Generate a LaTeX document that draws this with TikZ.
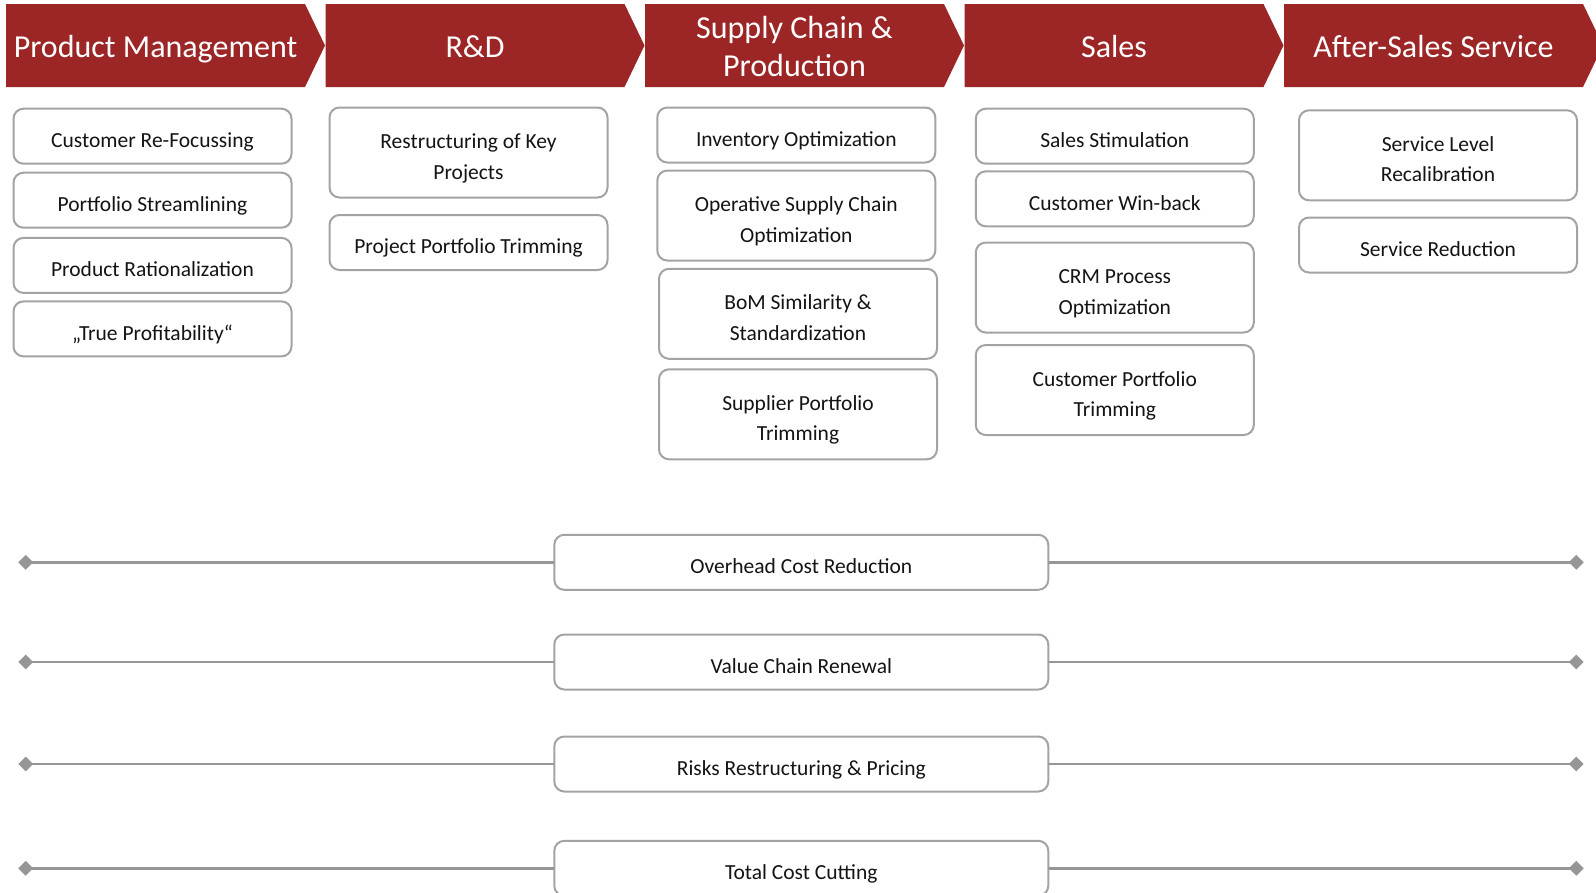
\documentclass[tikz,border=0pt]{standalone}
\usepackage{fontspec}
\setmainfont{Carlito}
\usetikzlibrary{positioning,shapes.geometric}

\definecolor{chainred}{RGB}{156,37,38}
\definecolor{boxgray}{RGB}{163,163,163}
\definecolor{linegray}{RGB}{150,150,150}
\definecolor{txtblack}{RGB}{20,20,20}

% struts that fix the text baselines inside the boxes
\newcommand{\levtop}{\rule{0pt}{28.8pt}}
\newcommand{\levbot}{\rule[-6pt]{0pt}{0pt}}
\newcommand{\stagetop}{\rule{0pt}{32pt}}
\newcommand{\stagebot}{\rule[-8pt]{0pt}{0pt}}

\tikzset{
  levbase/.style={draw=boxgray, line width=2pt, rounded corners=10pt, fill=white,
    minimum width=278pt, inner sep=0pt, align=center,
    text=txtblack, font=\fontsize{21.5}{30.5}\selectfont},
  lever/.style={levbase, minimum height=55pt,
    execute at begin node=\levtop, execute at end node=\levbot},
  lever2/.style={levbase, minimum height=90pt},
  bar/.style={lever, minimum width=494pt},
  stagetxt/.style={text=white, align=center, inner sep=0pt, font=\fontsize{32}{37.5}\selectfont},
  tipmark/.style={diamond, fill=linegray, inner sep=0pt, minimum size=15pt},
  barline/.style={draw=linegray, line width=2.8pt},
}

\begin{document}
\begin{tikzpicture}[line cap=round,line join=round,x=1pt,y=-1pt]
\useasboundingbox (0,0) rectangle (1596,892);

% value chain stages
\foreach \name/\lbl [count=\i from 0] in {pm/Product Management, rd/R\&D, scp/{Supply Chain \&\\Production}, sales/Sales, ass/After-Sales Service}
{
\pgfmathsetmacro{\hx}{6+319.5*\i}
\fill[chainred] (\hx,4) -- ++(299,0) -- ++(20,41.5) -- ++(-20,41.5) -- ++(-299,0) -- cycle;
\node[stagetxt] (\name) at (\hx+149.5,45.5) {\stagetop\lbl\stagebot};
}

% Product Management
\node[lever] (crf) at (152.5,136.2) {Customer Re-Focussing};
\node[lever] (pst) at (152.5,200.2) {Portfolio Streamlining};
\node[lever] (pra) at (152.5,265.4) {Product Rationalization};
\node[lever] (tpr) at (152.5,328.9) {„True Profitability“};

% R&D
\node[lever2] (rkp) at (468.5,152.5) {\levtop Restructuring of Key\\Projects\levbot};
\node[lever] (ppt) at (468.5,242.5) {Project Portfolio Trimming};

% Supply Chain & Production
\node[lever] (ino) at (796.3,135) {Inventory Optimization};
\node[lever2] (osc) at (796.3,215.5) {\levtop Operative Supply Chain\\Optimization\levbot};
\node[lever2] (bom) at (798,313.8) {\levtop BoM Similarity \&\\Standardization\levbot};
\node[lever2] (spt) at (798,414.3) {\levtop Supplier Portfolio\\Trimming\levbot};

% Sales
\node[lever] (sst) at (1114.8,136.2) {Sales Stimulation};
\node[lever] (cwb) at (1114.8,198.8) {Customer Win-back};
\node[lever2] (crm) at (1114.8,287.5) {\levtop CRM Process\\Optimization\levbot};
\node[lever2] (cpt) at (1114.8,390) {\levtop Customer Portfolio\\Trimming\levbot};

% After-Sales Service
\node[lever2] (slr) at (1438,155.3) {\levtop Service Level\\Recalibration\levbot};
\node[lever] (sre) at (1438,245) {Service Reduction};

% cross-functional levers
\foreach \name/\lbl/\ly [count=\i] in {ocr/Overhead Cost Reduction/562.3, vcr/Value Chain Renewal/662, rrp/Risks Restructuring \& Pricing/764, tcc/Total Cost Cutting/868.3}
{
\node[tipmark] (dl\i) at (25.7,\ly) {};
\node[tipmark] (dr\i) at (1576.3,\ly) {};
\node[bar] (\name) at (801.3,\ly) {\lbl};
\draw[barline] (dl\i.center) -- (\name);
\draw[barline] (\name) -- (dr\i.center);
}

\end{tikzpicture}
\end{document}
